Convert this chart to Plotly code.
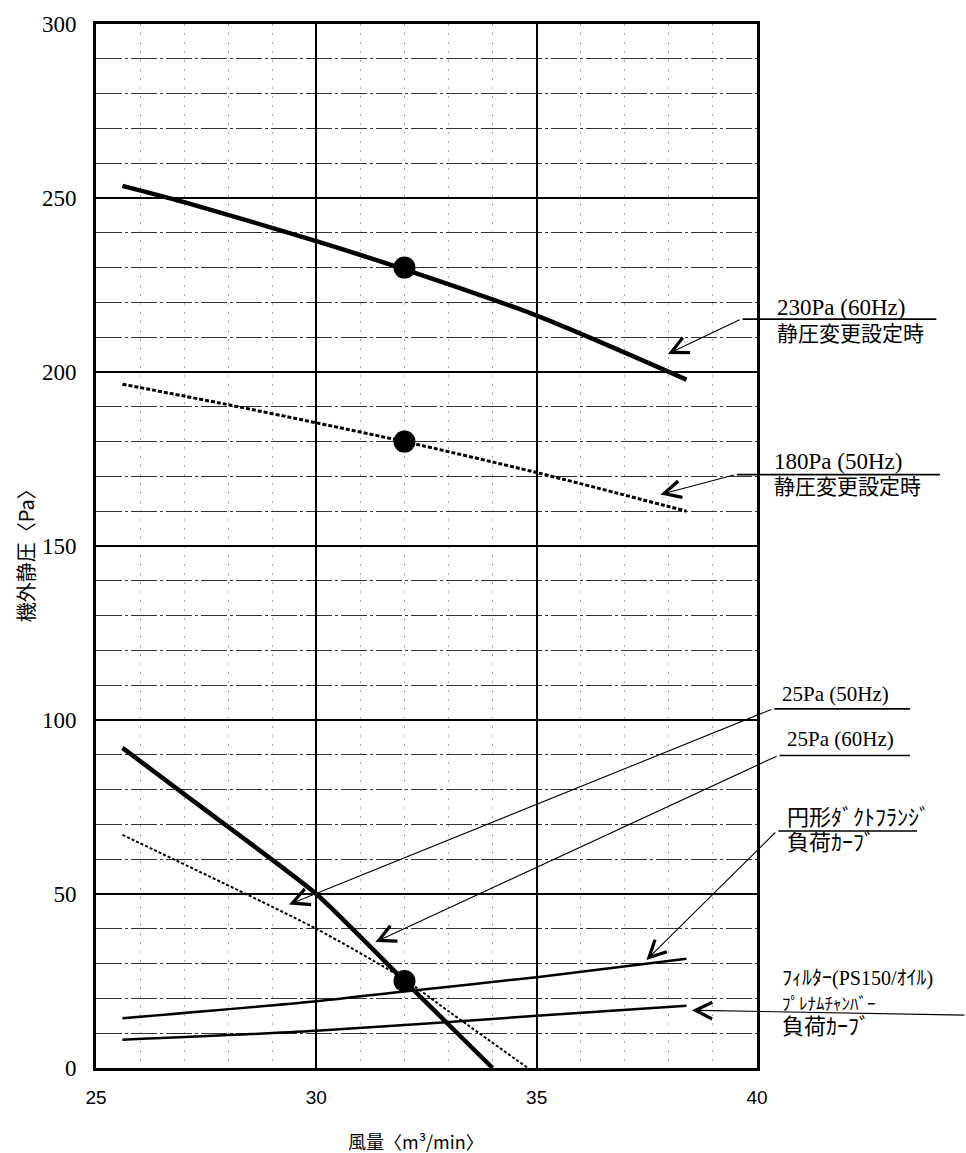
import plotly.graph_objects as go

# ---------------- data ----------------
x_ticks = [25, 30, 35, 40]
y_ticks = [0, 50, 100, 150, 200, 250, 300]

# 230Pa (60Hz) static-pressure setting curve
x_230 = [25.6, 27.0, 30.0, 32.0, 35.0, 38.4]
y_230 = [253.5, 248.8, 237.6, 229.5, 216.2, 197.8]

# 180Pa (50Hz) static-pressure setting curve
x_180 = [25.6, 28.0, 30.0, 32.0, 35.0, 38.4]
y_180 = [196.5, 190.6, 185.4, 180.0, 171.1, 160.0]

# 25Pa (50Hz)
x_25_50 = [25.6, 27.0, 30.0, 32.0, 33.0, 34.0]
y_25_50 = [92.0, 78.7, 50.0, 25.0, 12.5, 0.0]

# 25Pa (60Hz)
x_25_60 = [25.6, 30.0, 32.0, 33.0, 34.8]
y_25_60 = [67.0, 40.0, 25.5, 16.3, 0.0]

# round duct flange load curve
x_duct = [25.6, 30.0, 32.0, 35.0, 38.4]
y_duct = [14.3, 19.2, 22.0, 26.1, 31.4]

# filter (PS150/oil) + plenum chamber load curve
x_filter = [25.6, 30.0, 35.0, 38.4]
y_filter = [8.1, 10.7, 15.0, 17.9]

# operating points
x_op = [32.0, 32.0, 32.0]
y_op = [230.0, 180.0, 25.0]

# label texts
lbl_230 = ["230Pa (60Hz)", "静圧変更設定時"]
lbl_180 = ["180Pa (50Hz)", "静圧変更設定時"]
lbl_25_50 = "25Pa (50Hz)"
lbl_25_60 = "25Pa (60Hz)"
lbl_duct = ["円形ﾀﾞｸﾄﾌﾗﾝｼﾞ", "負荷ｶｰﾌﾞ"]
lbl_filter = ["ﾌｨﾙﾀｰ(PS150/ｵｲﾙ)", "ﾌﾟﾚﾅﾑﾁｬﾝﾊﾞｰ", "負荷ｶｰﾌﾞ"]
x_title = "風量〈m³/min〉"
y_title = "機外静圧〈Pa〉"

X_RANGE = [25, 40]
Y_RANGE = [0, 300]

# ---------------- figure ----------------
fig = go.Figure()

fig.add_trace(go.Scatter(x=x_230, y=y_230, mode="lines",
                         line=dict(color="black", width=4.5,
                                   shape="spline", smoothing=0.8)))
fig.add_trace(go.Scatter(x=x_180, y=y_180, mode="lines",
                         line=dict(color="black", width=3, dash="4px,2px",
                                   shape="spline", smoothing=0.8)))
fig.add_trace(go.Scatter(x=x_25_50, y=y_25_50, mode="lines",
                         line=dict(color="black", width=4.5,
                                   shape="spline", smoothing=0.5)))
fig.add_trace(go.Scatter(x=x_25_60, y=y_25_60, mode="lines",
                         line=dict(color="black", width=2, dash="3px,2px",
                                   shape="spline", smoothing=0.6)))
fig.add_trace(go.Scatter(x=x_duct, y=y_duct, mode="lines",
                         line=dict(color="black", width=2.5,
                                   shape="spline", smoothing=0.8)))
fig.add_trace(go.Scatter(x=x_filter, y=y_filter, mode="lines",
                         line=dict(color="black", width=2.5,
                                   shape="spline", smoothing=0.8)))
fig.add_trace(go.Scatter(x=x_op, y=y_op, mode="markers",
                         marker=dict(color="black", size=22)))

FONTS = "Liberation Serif, Noto Sans CJK JP"
JP = "Noto Sans CJK JP"
anns = []


def dx(x):
    return (x - X_RANGE[0]) / (X_RANGE[1] - X_RANGE[0])


def dy(y):
    return (y - Y_RANGE[0]) / (Y_RANGE[1] - Y_RANGE[0])


def arrow(hx, hy, tx, ty, head=5, width=1.1):
    anns.append(dict(x=dx(hx), y=dy(hy), ax=dx(tx), ay=dy(ty),
                     xref="x domain", yref="y domain",
                     axref="x domain", ayref="y domain", text="",
                     showarrow=True, arrowhead=head,
                     arrowsize=3 if head else 1,
                     arrowwidth=width, arrowcolor="black"))


def line(x0, x1, y):
    arrow(x1, y, x0, y, head=0, width=1.6)


def block(x, y, lines, sizes, base=19):
    s = "<br>".join('<span style="font-size:%dpx">%s</span>' % (sz, t)
                    for t, sz in zip(lines, sizes))
    anns.append(dict(x=dx(x), y=dy(y), xref="x domain", yref="y domain",
                     text=s, showarrow=False, align="left",
                     xanchor="left", yanchor="middle", borderpad=0,
                     font=dict(family=FONTS, size=base, color="black")))


# 230Pa label
line(39.64, 44.07, 215.2)
arrow(37.98, 205.2, 39.64, 215.2)
block(40.42, 214.9, lbl_230, [23, 21], base=20)
# 180Pa label
line(39.51, 44.15, 170.5)
arrow(37.81, 164.8, 39.51, 170.5)
block(40.37, 170.6, lbl_180, [23, 21], base=19)
# 25Pa (50Hz)
line(40.36, 43.47, 103.2)
arrow(29.38, 47.0, 40.36, 103.2)
block(40.55, 107.6, [lbl_25_50], [21])
# 25Pa (60Hz)
line(40.48, 43.47, 89.8)
arrow(31.34, 36.2, 40.48, 89.8)
block(40.66, 94.4, [lbl_25_60], [21])
# duct load curve
line(40.45, 43.63, 68.1)
arrow(37.49, 31.0, 40.45, 68.1)
block(40.66, 68.3, lbl_duct, [22, 22], base=19)
# filter load curve
arrow(38.52, 16.6, 44.74, 15.2)
block(40.55, 18.7, lbl_filter, [20, 17, 22], base=19)

# axis titles
anns.append(dict(x=0.484, y=-0.0696, xref="paper", yref="paper", text=x_title,
                 showarrow=False, xanchor="center", yanchor="middle",
                 font=dict(family=JP, size=18, color="black")))
anns.append(dict(x=-0.1074, y=0.495, xref="paper", yref="paper", text=y_title,
                 showarrow=False, xanchor="center", yanchor="middle",
                 textangle=-90, font=dict(family=JP, size=20, color="black")))

fig.update_layout(
    width=966, height=1153, autosize=False,
    margin=dict(l=96, r=209, t=19, b=85),
    paper_bgcolor="white", plot_bgcolor="white",
    showlegend=False,
    annotations=anns,
)

fig.update_xaxes(
    range=X_RANGE, tickmode="array", tickvals=x_ticks,
    ticktext=[str(v) for v in x_ticks],
    tickfont=dict(family="Liberation Sans", size=19, color="black"),
    ticks="", ticklabelstandoff=10,
    showgrid=True, gridcolor="black", gridwidth=2,
    minor=dict(dtick=1, showgrid=True, gridcolor="#a8a8a8",
               griddash="2px,7px", gridwidth=1),
    showline=True, linecolor="black", linewidth=3, mirror=True,
    zeroline=False,
)
fig.update_yaxes(
    range=Y_RANGE, tickmode="array", tickvals=y_ticks,
    ticktext=[str(v) for v in y_ticks],
    tickfont=dict(family="Liberation Serif", size=23, color="black"),
    ticks="", ticklabelstandoff=12,
    showgrid=True, gridcolor="black", gridwidth=2.2,
    minor=dict(dtick=10, showgrid=True, gridcolor="#333333",
               griddash="26px,3px,3px,3px", gridwidth=1.2),
    showline=True, linecolor="black", linewidth=3, mirror=True,
    zeroline=False,
)

fig.write_html("out.html",
               config={"displayModeBar": False},
               post_script="document.body.style.margin='0px';"
                           "document.body.style.overflow='hidden';")
